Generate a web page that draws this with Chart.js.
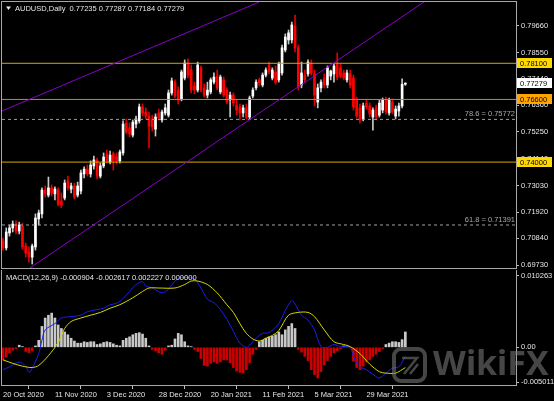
<!DOCTYPE html>
<html>
<head>
<meta charset="utf-8">
<script src="https://cdn.jsdelivr.net/npm/chart.js@4.4.1/dist/chart.umd.min.js"></script>
<style>
html,body{margin:0;padding:0;background:#000;}
#wrap{position:relative;width:554px;height:401px;background:#000;overflow:hidden;}
canvas{position:absolute;left:0;}
</style>
</head>
<body>
<div id="wrap">
<canvas id="priceChart" width="554" height="270" style="top:0"></canvas>
<canvas id="macdChart" width="554" height="131" style="top:270px"></canvas>
</div>
<script>
/* AUDUSD daily bars, 20 Oct 2020 onwards */
var openP = [.7073,.7044,.7106,.7127,.7143,.7114,.7135,.7052,.7027,.7006,
  .7048,.7164,.7185,.7284,.7263,.7293,.7268,.7284,.7239,.7251,
  .7322,.7288,.7301,.7263,.7280,.7351,.7371,.7351,.7384,.7409,
  .7342,.7384,.7434,.7400,.7434,.7421,.7405,.7438,.7562,.7542,
  .7512,.7558,.7571,.7629,.7608,.7591,.7579,.7537,.7604,.7575,
  .7604,.7595,.7687,.7732,.7699,.7662,.7749,.7811,.7782,.7716,
  .7699,.7791,.7708,.7678,.7691,.7732,.7757,.7691,.7741,.7699,
  .7658,.7678,.7637,.7629,.7604,.7625,.7587,.7674,.7708,.7741,
  .7720,.7761,.7803,.7749,.7774,.7741,.7770,.7865,.7907,.7907,
  .7965,.7874,.7720,.7761,.7766,.7811,.7766,.7649,.7708,.7749,
  .7720,.7757,.7766,.7807,.7791,.7770,.7741,.7766,.7749,.7658,
  .7625,.7579,.7645,.7633,.7587,.7625,.7595,.7616,.7658,.7604,
  .7649,.7591,.7612,.7633,.77235];
var highP = [.7085,.7127,.7139,.7156,.7156,.7151,.7147,.7064,.7048,.7060,
  .7185,.7201,.7293,.7301,.7338,.7305,.7297,.7293,.7272,.7326,
  .7342,.7313,.7313,.7317,.7367,.7380,.7388,.7405,.7425,.7417,
  .7396,.7438,.7450,.7446,.7442,.7438,.7450,.7571,.7579,.7562,
  .7575,.7591,.7641,.7641,.7625,.7608,.7595,.7600,.7620,.7616,
  .7641,.7699,.7749,.7741,.7712,.7782,.7824,.7828,.7803,.7732,
  .7815,.7799,.7724,.7732,.7749,.7770,.7782,.7761,.7753,.7708,
  .7691,.7687,.7658,.7641,.7637,.7641,.7674,.7708,.7741,.7749,
  .7770,.7791,.7815,.7791,.7799,.7815,.7886,.7932,.7948,.7981,
  .8010,.7886,.7815,.7782,.7824,.7824,.7782,.7724,.7741,.7766,
  .7799,.7782,.7807,.7853,.7807,.7782,.7782,.7782,.7761,.7670,
  .7641,.7645,.7658,.7645,.7625,.7637,.7658,.7666,.7670,.7666,
  .7662,.7633,.7645,.7745,.77287];
var lowP = [.7035,.7035,.7093,.7110,.7102,.7102,.7039,.7006,.6985,.6977,
  .7035,.7139,.7168,.7255,.7255,.7259,.7243,.7218,.7210,.7243,
  .7284,.7272,.7247,.7255,.7268,.7334,.7342,.7338,.7371,.7330,
  .7334,.7376,.7396,.7392,.7367,.7392,.7396,.7429,.7517,.7504,
  .7504,.7542,.7562,.7591,.7579,.7459,.7529,.7508,.7575,.7566,
  .7595,.7587,.7678,.7666,.7641,.7654,.7741,.7749,.7687,.7683,
  .7691,.7691,.7670,.7666,.7683,.7724,.7699,.7683,.7670,.7641,
  .7587,.7633,.7595,.7575,.7587,.7579,.7579,.7666,.7699,.7716,
  .7712,.7753,.7766,.7741,.7724,.7732,.7761,.7857,.7890,.7894,
  .7857,.7699,.7708,.7732,.7757,.7761,.7633,.7625,.7691,.7708,
  .7708,.7741,.7732,.7741,.7749,.7741,.7732,.7708,.7616,.7583,
  .7562,.7571,.7620,.7587,.7533,.7579,.7587,.7604,.7600,.7595,
  .7600,.7579,.7591,.7625,.77184];
var closeP = [.7044,.7110,.7127,.7143,.7114,.7139,.7048,.7023,.7006,.7052,
  .7168,.7189,.7284,.7268,.7293,.7272,.7288,.7226,.7222,.7313,
  .7293,.7301,.7255,.7301,.7355,.7371,.7351,.7388,.7409,.7342,
  .7384,.7421,.7405,.7429,.7405,.7405,.7442,.7558,.7525,.7517,
  .7566,.7579,.7629,.7604,.7591,.7550,.7546,.7587,.7583,.7608,
  .7625,.7687,.7737,.7674,.7658,.7774,.7811,.7761,.7699,.7699,
  .7803,.7699,.7678,.7699,.7741,.7753,.7708,.7753,.7678,.7649,
  .7678,.7645,.7616,.7604,.7625,.7587,.7666,.7699,.7732,.7728,
  .7761,.7782,.7774,.7782,.7732,.7807,.7874,.7919,.7936,.7969,
  .7874,.7712,.7770,.7741,.7815,.7770,.7678,.7708,.7732,.7720,
  .7791,.7778,.7799,.7753,.7757,.7749,.7770,.7720,.7629,.7591,
  .7575,.7633,.7629,.7600,.7616,.7587,.7645,.7658,.7608,.7658,
  .7608,.7620,.7633,.7723,.77279];

// MACD(12,26,9) pane
var macdHist = [-0.0018,-0.0014,-0.0008,-0.0004,-0.0002,0.0003,0.0001,-0.0006,-0.0008,-0.0005,
  0.0002,0.0010,0.0030,0.0042,0.0046,0.0049,0.0042,0.0032,0.0027,0.0022,
  0.0018,0.0013,0.0009,0.0006,0.0006,0.0008,0.0007,0.0008,0.0008,0.0004,
  0.0005,0.0007,0.0008,0.0007,0.0005,0.0003,0.0002,0.0010,0.0013,0.0015,
  0.0018,0.0020,0.0021,0.0019,0.0013,0.0002,-0.0003,-0.0005,-0.0008,-0.0010,
  -0.0004,0.0002,0.0003,0.0012,0.0020,0.0018,0.0008,0.0002,0.0001,-0.0003,
  -0.0006,-0.0016,-0.0026,-0.0027,-0.0023,-0.0021,-0.0023,-0.0021,-0.0018,-0.0018,
  -0.0022,-0.0029,-0.0034,-0.0036,-0.0037,-0.0032,-0.0022,-0.0010,-0.0003,0.0008,
  0.0010,0.0013,0.0015,0.0016,0.0018,0.0022,0.0018,0.0025,0.0030,0.0034,
  0.0027,-0.0003,-0.0007,-0.0013,-0.0019,-0.0032,-0.0039,-0.0044,-0.0035,-0.0025,
  -0.0019,-0.0013,-0.0008,-0.0005,-0.0002,0.0002,0.0001,-0.0001,-0.0020,-0.0029,
  -0.0032,-0.0027,-0.0021,-0.0018,-0.0013,-0.0010,-0.0006,-0.0002,0.0004,0.0006,
  0.0008,0.0008,0.0007,0.0011,0.0022];
var macdMainX = [0,2,5,7,8,9,11,12,13,16,18,21,24,26,29,31,33,35,37,39,41,43,44,46,49,51,53,55,57,59,
  61,63,65,67,69,71,73,75,76,78,80,82,85,87,89,90,92,94,96,98,100,102,104,107,108,110,112,115,116,118,120,122,124];
var macdMainY = [-0.0032,-0.0028,-0.0021,-0.0027,-0.0036,-0.0030,-0.0009,0.0010,0.0025,0.0034,
  0.0042,0.0044,0.0046,0.0051,0.0054,0.0056,0.0061,0.0063,0.0070,0.0080,
  0.0090,0.0094,0.0088,0.0085,0.0078,0.0083,0.0095,0.0100,0.0100,0.0098,
  0.0085,0.0069,0.0064,0.0054,0.0040,0.0023,0.0006,0.0000,0.0003,0.0013,
  0.0020,0.0021,0.0034,0.0053,0.0067,0.0062,0.0046,0.0039,0.0025,0.0001,
  0.0000,0.0004,0.0001,0.0000,-0.0013,-0.0028,-0.0032,-0.0042,-0.0044,-0.0037,
  -0.0030,-0.0028,-0.0013];
var signalX = [0,3,6,9,11,14,17,19,21,24,27,30,33,36,40,43,45,48,53,56,58,60,63,66,69,71,73,75,77,79,
  81,83,85,88,91,94,96,99,102,105,107,110,113,116,118,121,123,124];
var signalY = [-0.0018,-0.0023,-0.0027,-0.0029,-0.0026,-0.0012,0.0007,0.0027,0.0037,0.0042,
  0.0046,0.0050,0.0056,0.0061,0.0071,0.0080,0.0085,0.0085,0.0085,0.0090,
  0.0095,0.0095,0.0090,0.0078,0.0061,0.0050,0.0034,0.0020,0.0012,0.0009,
  0.0013,0.0017,0.0024,0.0046,0.0050,0.0050,0.0044,0.0025,0.0008,0.0004,
  0.0001,-0.0009,-0.0024,-0.0035,-0.0037,-0.0037,-0.0032,-0.0029];
var macdReadout = ['-0.000904','-0.002617','0.002227','0.000000'];

// axes
var priceTicks = [0.79660,0.78550,0.77440,0.76360,0.75250,0.74140,0.73030,0.71920,0.70840,0.69730];
var macdTicks = [0.010263,0,-0.005011];
var macdTickLabels = ['0.010263','0.00','-0.005011'];
var dateTickIdx = [0,16,32,48,64,80,96,112];
var dateLabels = ['20 Oct 2020','11 Nov 2020','3 Dec 2020','28 Dec 2020','20 Jan 2021','11 Feb 2021','5 Mar 2021','29 Mar 2021'];

// drawn objects
var levelValues = [0.78100,0.76600,0.74000];
var fibNames = ['78.6','61.8'];
var fibValues = [0.75772,0.71391];
var upperTrendX = [-0.31,78.9];
var upperTrendY = [0.7612,0.8064];
var lowerTrendX = [8.3,129.7];
var lowerTrendY = [0.6961,0.8064];

var X_MIN = -0.31, X_MAX = 158.1;
var levelLineColors = ['#d4a800','#d08c00','#d4a800'];
var levelBoxColors = ['#ffd800','#ffa500','#ffd800'];
var FONT = "'Liberation Sans', Arial, sans-serif";

Chart.defaults.font.family = FONT;
Chart.defaults.font.size = 7.5;
Chart.defaults.color = '#e6e6e6';

var idx = openP.map(function(v, i){ return i; });
var bull = idx.map(function(i){ return closeP[i] >= openP[i]; });

function hLine(v, color, dash) {
  return { type:'line', data:[{x:X_MIN,y:v},{x:X_MAX,y:v}], borderColor:color, borderWidth:1,
    borderDash:dash || [], pointRadius:0, order:1 };
}

function frame(chart) {
  var ctx = chart.ctx, ca = chart.chartArea;
  ctx.strokeStyle = '#a8a8a8';
  ctx.lineWidth = 1;
  ctx.strokeRect(ca.left - 0.5, ca.top - 0.5, ca.right - ca.left + 1, ca.bottom - ca.top + 1);
}

var priceDeco = {
  id: 'priceDeco',
  afterDraw: function(chart) {
    var ctx = chart.ctx, ys = chart.scales.y, ca = chart.chartArea;
    ctx.save();
    frame(chart);
    // header
    ctx.fillStyle = '#e6e6e6';
    ctx.beginPath(); ctx.moveTo(6,6.5); ctx.lineTo(11,6.5); ctx.lineTo(8.5,10); ctx.closePath(); ctx.fill();
    ctx.font = '7.5px ' + FONT;
    ctx.textBaseline = 'middle';
    ctx.textAlign = 'left';
    var last = openP.length - 1;
    ctx.fillText('AUDUSD,Daily  ' + [openP[last],highP[last],lowP[last],closeP[last]].map(function(v){return v.toFixed(5);}).join(' '), 15, 8.5);
    // fibo labels
    ctx.fillStyle = '#a8a8a8';
    ctx.textAlign = 'right';
    fibValues.forEach(function(v, k){
      ctx.fillText(fibNames[k] + ' = ' + v.toFixed(5), ca.right - 1, ys.getPixelForValue(v) - 5);
    });
    // price boxes on the axis
    ctx.textAlign = 'left';
    function box(v, bg) {
      var py = Math.round(ys.getPixelForValue(v));
      ctx.fillStyle = bg;
      ctx.fillRect(517, py - 5, 35, 10);
      ctx.fillStyle = '#000';
      ctx.fillText(v.toFixed(5), 520, py + 0.5);
    }
    levelValues.forEach(function(v, k){ box(v, levelBoxColors[k]); });
    box(closeP[last], '#ffffff');
    ctx.restore();
  }
};

new Chart(document.getElementById('priceChart'), {
  type: 'bar',
  data: { datasets: [
    { type:'bar', data: idx.map(function(i){ return {x:i, y:[lowP[i], highP[i]]}; }),
      backgroundColor: idx.map(function(i){ return bull[i] ? '#c8c8c8' : '#e00000'; }),
      barThickness:1, grouped:false, order:3 },
    { type:'bar', data: idx.map(function(i){ return {x:i, y:[openP[i], closeP[i]]}; }),
      backgroundColor: idx.map(function(i){ return bull[i] ? '#ffffff' : '#ff0000'; }),
      barThickness:2, grouped:false, minBarLength:1, order:2 },
    hLine(levelValues[0], levelLineColors[0]),
    hLine(levelValues[1], levelLineColors[1]),
    hLine(levelValues[2], levelLineColors[2]),
    hLine(fibValues[0], '#a0a0a0', [3,3]),
    hLine(fibValues[1], '#a0a0a0', [3,3]),
    { type:'line', data: upperTrendX.map(function(x,k){ return {x:x, y:upperTrendY[k]}; }),
      borderColor:'#8a00c8', borderWidth:1, pointRadius:0, order:0 },
    { type:'line', data: lowerTrendX.map(function(x,k){ return {x:x, y:lowerTrendY[k]}; }),
      borderColor:'#8a00c8', borderWidth:1, pointRadius:0, order:0 }
  ]},
  options: {
    responsive:false, animation:false, devicePixelRatio:1,
    layout: { padding: { left:2, top:2, right:0, bottom:2 } },
    plugins: { legend:{display:false}, tooltip:{enabled:false} },
    scales: {
      x: { type:'linear', min:X_MIN, max:X_MAX, offset:false, display:false },
      y: { position:'right', min:0.69606, max:0.80643,
        afterBuildTicks: function(s){ s.ticks = priceTicks.map(function(v){ return {value:v}; }); },
        afterFit: function(s){ s.width = 38; s.paddingTop = 0; s.paddingBottom = 0; },
        ticks: { padding:2, color:'#e6e6e6', callback: function(v){ return v.toFixed(5); } },
        grid: { drawOnChartArea:false, tickLength:3, color:'#c0c0c0' },
        border: { display:false } }
    }
  },
  plugins: [priceDeco]
});

var macdDeco = {
  id: 'macdDeco',
  afterDraw: function(chart) {
    var ctx = chart.ctx;
    ctx.save();
    frame(chart);
    ctx.fillStyle = '#e6e6e6';
    ctx.font = '7.5px ' + FONT;
    ctx.textBaseline = 'middle';
    ctx.textAlign = 'left';
    ctx.fillText('MACD(12,26,9) ' + macdReadout.join(' '), 6, 7.5);
    // WikiFX watermark
    ctx.globalAlpha = 0.55;
    ctx.strokeStyle = '#808080';
    ctx.fillStyle = '#808080';
    ctx.lineWidth = 4;
    ctx.beginPath();
    ctx.roundRect(394, 79, 31, 32, 7);
    ctx.stroke();
    ctx.lineWidth = 2.5;
    ctx.beginPath();
    ctx.moveTo(402, 88); ctx.lineTo(417, 88); ctx.lineTo(404, 104);
    ctx.moveTo(418, 94); ctx.lineTo(410, 104);
    ctx.stroke();
    ctx.font = 'bold 34px "Noto Sans", sans-serif';
    ctx.textBaseline = 'alphabetic';
    ctx.fillText('WikiFX', 433, 105);
    ctx.restore();
  }
};

new Chart(document.getElementById('macdChart'), {
  type: 'bar',
  data: { datasets: [
    { type:'bar', data: idx.map(function(i){ return {x:i, y:macdHist[i]}; }),
      backgroundColor: macdHist.map(function(v){ return v >= 0 ? '#c8c8c8' : '#cc0000'; }),
      barThickness:2, grouped:false, order:3 },
    { type:'line', data: macdMainX.map(function(x,k){ return {x:x, y:macdMainY[k]}; }),
      borderColor:'#1c1cf0', borderWidth:1, pointRadius:0, tension:0.3, order:1 },
    { type:'line', data: signalX.map(function(x,k){ return {x:x, y:signalY[k]}; }),
      borderColor:'#d8d800', borderWidth:1, pointRadius:0, tension:0.3, order:0 }
  ]},
  options: {
    responsive:false, animation:false, devicePixelRatio:1,
    layout: { padding: { left:2, top:0, right:0, bottom:0 } },
    plugins: { legend:{display:false}, tooltip:{enabled:false} },
    scales: {
      x: { type:'linear', min:X_MIN, max:X_MAX, offset:false, position:'bottom',
        afterBuildTicks: function(s){ s.ticks = dateTickIdx.map(function(v){ return {value:v}; }); },
        afterFit: function(s){ s.height = 16; s.paddingLeft = 0; s.paddingRight = 0; },
        ticks: { autoSkip:false, maxRotation:0, minRotation:0, align:'start', padding:1, color:'#e6e6e6',
          callback: function(v, i){ return dateLabels[i]; } },
        grid: { drawOnChartArea:false, tickLength:4, color:'#c0c0c0' },
        border: { display:false } },
      y: { position:'right', min:-0.0054, max:0.01108,
        afterBuildTicks: function(s){ s.ticks = macdTicks.map(function(v){ return {value:v}; }); },
        afterFit: function(s){ s.width = 38; s.paddingTop = 0; s.paddingBottom = 0; },
        ticks: { padding:2, color:'#e6e6e6', callback: function(v, i){ return macdTickLabels[i]; } },
        grid: { drawOnChartArea:false, tickLength:3, color:'#c0c0c0' },
        border: { display:false } }
    }
  },
  plugins: [macdDeco]
});
</script>
</body>
</html>
